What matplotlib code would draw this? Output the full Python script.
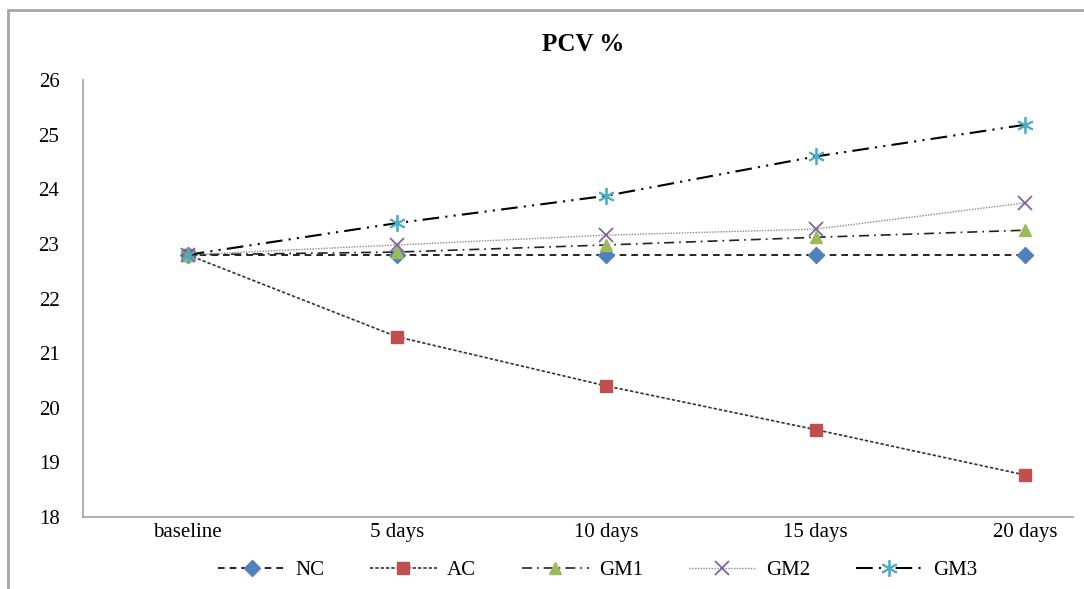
import matplotlib.pyplot as plt
from matplotlib.patches import Rectangle

# 数据
periods = ['baseline', '5 days', '10 days', '15 days', '20 days']
nc = [22.8, 22.8, 22.8, 22.8, 22.8]
ac = [22.8, 21.3, 20.4, 19.6, 18.77]
gm1 = [22.8, 22.85, 22.98, 23.12, 23.25]
gm2 = [22.8, 22.98, 23.16, 23.27, 23.75]
gm3 = [22.8, 23.38, 23.88, 24.6, 25.18]

plt.rcParams['font.family'] = ['Liberation Serif', 'DejaVu Serif']

fig = plt.figure(figsize=(10.84, 5.89), dpi=100)
ax = fig.add_axes([0.0766, 0.1222, 0.9133, 0.7420])

# 外框
fig.patches.append(Rectangle((8 / 1084, -0.05), 1.1, 1 - 10 / 589 + 0.05,
                             transform=fig.transFigure, fill=False,
                             edgecolor='#a6a6a6', linewidth=2, zorder=0))

x = range(len(periods))
ax.plot(x, nc, linestyle=(0, (4, 3)), color='black', linewidth=1.2,
        marker='D', markersize=8, markerfacecolor='#4f81bd', markeredgecolor='#4f81bd', label='NC')
ax.plot(x, ac, linestyle=(0, (2, 1.2)), color='#333333', linewidth=1.2,
        marker='s', markersize=8, markerfacecolor='#c0504d', markeredgecolor='#c0504d', label='AC')
ax.plot(x, gm1, linestyle=(0, (6, 3, 1, 3)), color='#222222', linewidth=1.2,
        marker='^', markersize=9, markerfacecolor='#9bbb59', markeredgecolor='#9bbb59', label='GM1')
ax.plot(x, gm2, linestyle=(0, (1, 1)), color='#888888', linewidth=1.0,
        marker='x', markersize=10, markeredgewidth=1.3, markeredgecolor='#8064a2', label='GM2')
ax.plot(x, gm3, linestyle=(0, (8, 3, 1, 3, 1, 3)), color='black', linewidth=1.5,
        marker=(6, 2, 0), markersize=12, markeredgewidth=1.3, markeredgecolor='#4bacc6', label='GM3')

ax.set_xlim(-0.5, 4.23)
ax.set_ylim(18, 26)
ax.set_xticks(list(x))
ax.set_xticklabels(periods)
ax.set_yticks(range(18, 27))
ax.tick_params(length=0, labelsize=15, colors='black')
ax.tick_params(axis='x', pad=4)
ax.tick_params(axis='y', pad=17)
for s in ['top', 'right']:
    ax.spines[s].set_visible(False)
for s in ['left', 'bottom']:
    ax.spines[s].set_color('#a0a0a0')
    ax.spines[s].set_linewidth(1.2)

fig.text(0.538, 0.925, 'PCV %', ha='center', va='center', fontsize=18, fontweight='bold')

ax.legend(loc='center', bbox_to_anchor=(0.52, -0.122), ncol=5, frameon=False,
          fontsize=15, handlelength=3.2, columnspacing=2.2, handletextpad=0.5)

fig.savefig('out.png', dpi=100)
